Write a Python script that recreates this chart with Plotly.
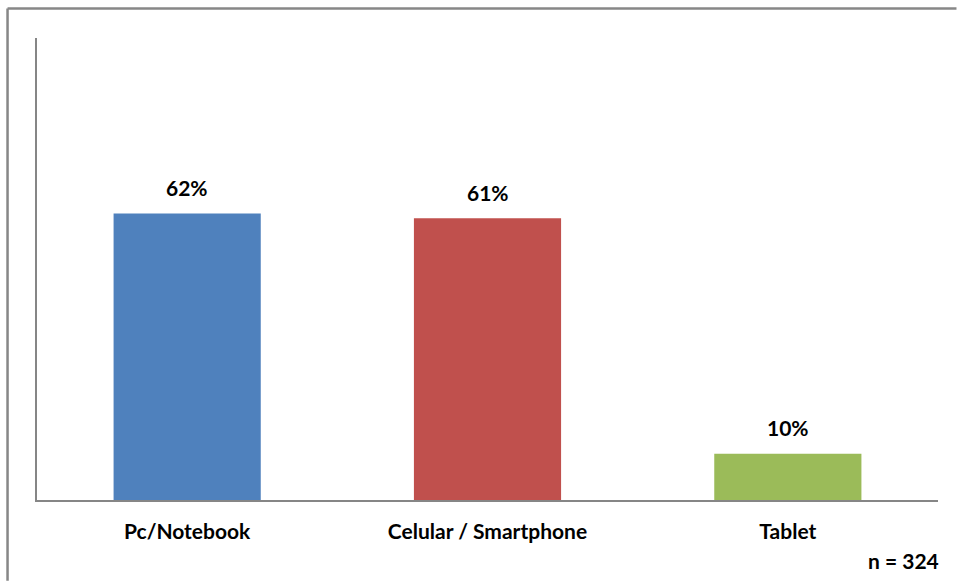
import plotly.graph_objects as go

# Dispositivos utilizados
categories = ["Pc/Notebook", "Celular / Smartphone", "Tablet"]
shares = [0.62, 0.61, 0.10]
bar_colors = ["#4F81BD", "#C0504D", "#9BBB59"]
sample_note = "n = 324"

FONT = "Lato, Carlito, Calibri, sans-serif"
AXIS_GRAY = "#868686"
FRAME_GRAY = "#878787"
TEXT_SIZE = 21

fig = go.Figure(
    go.Bar(
        x=categories,
        y=shares,
        marker=dict(color=bar_colors, line=dict(width=0)),
        width=0.49,
        hoverinfo="skip",
    )
)

# value labels above each bar
for cat, val in zip(categories, shares):
    fig.add_annotation(
        x=cat, y=val, text=f"<b>{val:.0%}</b>",
        showarrow=False, yshift=26,
        font=dict(family=FONT, size=TEXT_SIZE, color="#000000"),
    )

fig.add_annotation(
    xref="paper", yref="paper", x=1.003, y=-0.13,
    xanchor="right", yanchor="middle", showarrow=False,
    text=f"<b>{sample_note}</b>",
    font=dict(family=FONT, size=TEXT_SIZE, color="#000000"),
)

# outer chart frame: top and left edges, kept within the page
frame = dict(color=FRAME_GRAY, width=2.5)
fig.add_shape(type="line", xref="paper", yref="paper",
              x0=-0.0327, y0=1.064, x1=1.0205, y1=1.064, line=frame, layer="below")
fig.add_shape(type="line", xref="paper", yref="paper",
              x0=-0.0327, y0=1.064, x1=-0.0327, y1=-0.175, line=frame, layer="below")

fig.update_layout(
    width=957, height=581,
    margin=dict(l=37, r=19, t=38, b=81),
    paper_bgcolor="white", plot_bgcolor="white",
    showlegend=False,
    bargap=0.51,
    xaxis=dict(
        range=[-0.5, 2.5], showline=True, linecolor=AXIS_GRAY, linewidth=1.5,
        ticks="", showgrid=False, zeroline=False,
        tickfont=dict(family=FONT, size=TEXT_SIZE, color="#000000"),
        tickprefix="<b>", ticksuffix="</b>",
        ticklabelstandoff=12,
        fixedrange=True,
    ),
    yaxis=dict(
        range=[0, 1], showline=True, linecolor=AXIS_GRAY, linewidth=1.5,
        showticklabels=False, ticks="", showgrid=False, zeroline=False,
        fixedrange=True,
    ),
)

fig.write_html("out.html")
